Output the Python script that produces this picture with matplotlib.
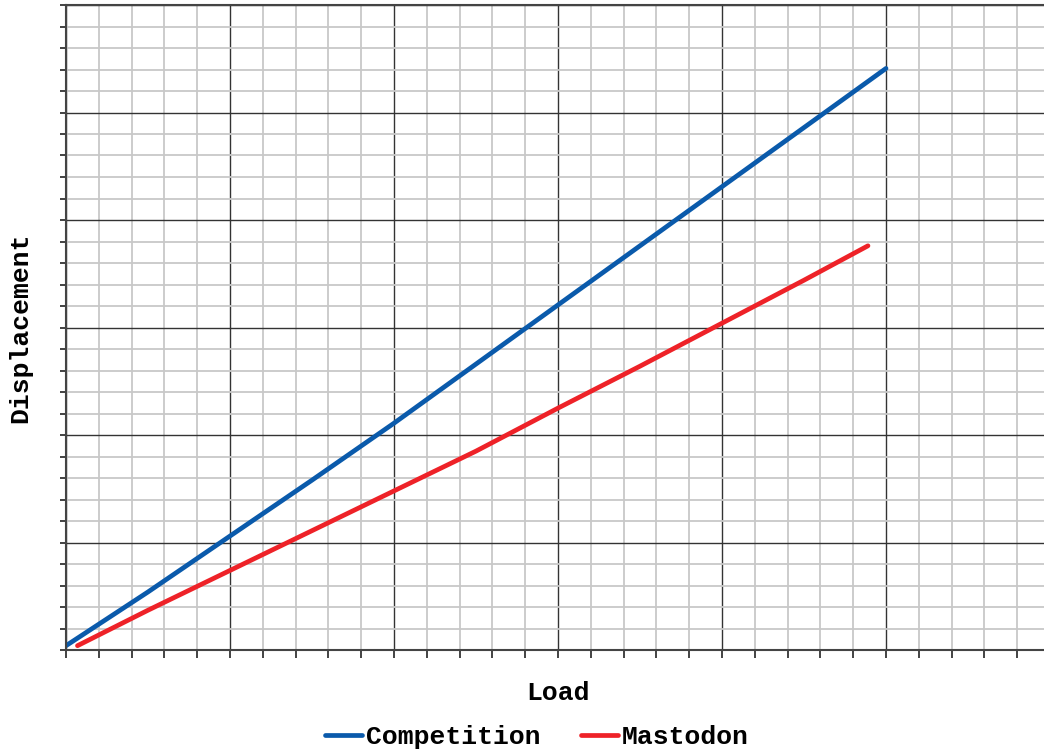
import matplotlib
matplotlib.use("Agg")
import matplotlib.pyplot as plt
from matplotlib.ticker import MultipleLocator, NullFormatter

# ─── DATA ─────────────────────────────────────────────────────
comp_load = [0.0, 0.25, 0.5, 0.75, 1.0, 1.5, 2.0, 2.5, 3.0, 3.5, 4.0, 4.5, 5.0]
comp_disp = [0.04, 0.29, 0.54, 0.80, 1.06, 1.58, 2.11, 2.66, 3.21, 3.76, 4.31, 4.86, 5.41]

mast_load = [0.07, 0.5, 1.0, 1.5, 2.0, 2.5, 3.0, 3.5, 4.0, 4.5, 4.89]
mast_disp = [0.04, 0.37, 0.74, 1.11, 1.48, 1.85, 2.25, 2.64, 3.04, 3.44, 3.76]

BLUE = "#0a5aab"
RED = "#ee2228"
FONT = ["Liberation Mono", "DejaVu Sans Mono"]

# ─── PLOT ─────────────────────────────────────────────────────
fig = plt.figure(figsize=(10.44, 7.51), dpi=100)
W, H = 1044, 751
ax = fig.add_axes([66 / W, 1 - 650 / H, (1050 - 66) / W, (650 - 5) / H])

ax.plot(comp_load, comp_disp, color=BLUE, linewidth=3.4, solid_capstyle="round", label="Competition")
ax.plot(mast_load, mast_disp, color=RED, linewidth=3.4, solid_capstyle="round", label="Mastodon")

ax.set_xlim(0, 6)
ax.set_ylim(0, 6)
ax.xaxis.set_major_locator(MultipleLocator(1))
ax.xaxis.set_minor_locator(MultipleLocator(0.2))
ax.yaxis.set_major_locator(MultipleLocator(1))
ax.yaxis.set_minor_locator(MultipleLocator(0.2))
ax.xaxis.set_major_formatter(NullFormatter())
ax.yaxis.set_major_formatter(NullFormatter())

ax.grid(which="major", color="#333333", linewidth=1.0)
ax.grid(which="minor", color="#c8c8c8", linewidth=1.3)
ax.set_axisbelow(True)

ax.tick_params(which="both", direction="out", color="#222222", width=1.2)
ax.tick_params(axis="x", which="both", length=6)
ax.tick_params(axis="y", which="both", length=4)

for side in ("left", "bottom", "top"):
    ax.spines[side].set_color("#444444")
    ax.spines[side].set_linewidth(1.5)
ax.spines["right"].set_visible(False)

ax.set_xlabel("Load", fontfamily=FONT, fontweight="bold", fontsize=19, labelpad=13)
ax.set_ylabel("Displacement", fontfamily=FONT, fontweight="bold", fontsize=19, labelpad=17)

fig.legend(loc="center", bbox_to_anchor=(537 / W, 1 - 737 / H), ncol=2, frameon=False,
           prop={"family": FONT, "weight": "bold", "size": 19},
           handlelength=1.4, handletextpad=0.15, columnspacing=1.5)

fig.savefig("out.png", dpi=100)
